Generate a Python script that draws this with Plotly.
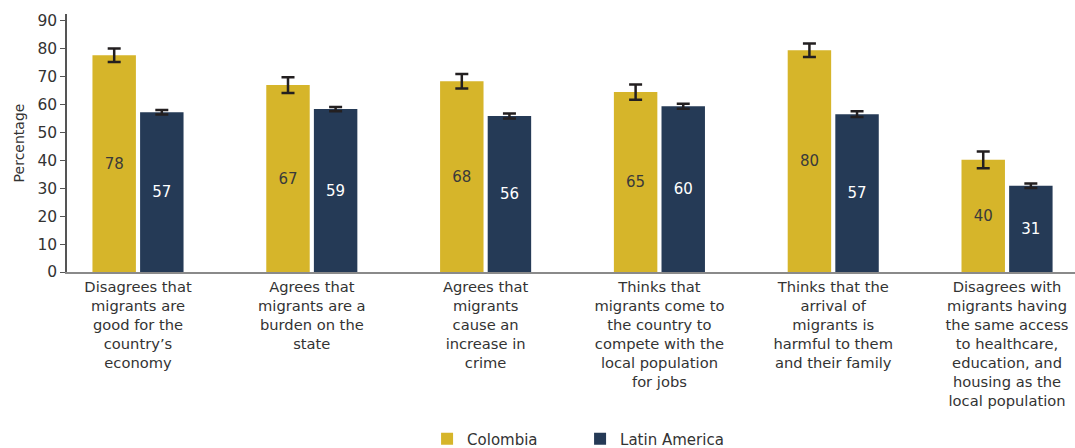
import plotly.graph_objects as go

categories = [
    "Disagrees that<br>migrants are<br>good for the<br>country’s<br>economy",
    "Agrees that<br>migrants are a<br>burden on the<br>state",
    "Agrees that<br>migrants<br>cause an<br>increase in<br>crime",
    "Thinks that<br>migrants come to<br>the country to<br>compete with the<br>local population<br>for jobs",
    "Thinks that the<br>arrival of<br>migrants is<br>harmful to them<br>and their family",
    "Disagrees with<br>migrants having<br>the same access<br>to healthcare,<br>education, and<br>housing as the<br>local population",
]
colombia = [77.7, 67.0, 68.4, 64.5, 79.5, 40.2]
colombia_err = [2.4, 2.8, 2.6, 2.7, 2.4, 3.0]
colombia_labels = ["78", "67", "68", "65", "80", "40"]
latam = [57.3, 58.4, 55.9, 59.4, 56.6, 30.9]
latam_err = [0.8, 0.75, 0.9, 0.9, 1.0, 0.8]
latam_labels = ["57", "59", "56", "60", "57", "31"]
y_ticks = [0, 10, 20, 30, 40, 50, 60, 70, 80, 90]

FONT = "DejaVu Sans"
GOLD = "#D6B52A"
NAVY = "#253A56"
DARK = "#231F20"

fig = go.Figure()
fig.add_trace(go.Bar(
    name="Colombia", x=categories, y=colombia,
    marker=dict(color=GOLD, line=dict(width=0)),
    width=0.25, offset=-0.262,
    text=colombia_labels, textposition="inside", insidetextanchor="middle",
    textfont=dict(family=FONT, size=15, color="#3a3a3a"),
    error_y=dict(type="data", array=colombia_err, color=DARK, thickness=2.5, width=6.5),
    hoverinfo="skip",
))
fig.add_trace(go.Bar(
    name="Latin America", x=categories, y=latam,
    marker=dict(color=NAVY, line=dict(width=0)),
    width=0.25, offset=0.012,
    text=latam_labels, textposition="inside", insidetextanchor="middle",
    textfont=dict(family=FONT, size=15, color="white"),
    error_y=dict(type="data", array=latam_err, color=DARK, thickness=2.5, width=6.5),
    hoverinfo="skip",
))

fig.update_layout(
    width=1075, height=448,
    margin=dict(l=67, r=0, t=13.5, b=175.5, autoexpand=False),
    paper_bgcolor="white", plot_bgcolor="white",
    font=dict(family=FONT, size=14.7, color="#333333"),
    barmode="group",
    showlegend=True,
    legend=dict(
        orientation="h", x=0.509, xanchor="center", y=-0.583, yanchor="top",
        font=dict(family=FONT, size=15, color="#333333"),
        entrywidth=108, itemclick=False,
    ),
)
fig.update_xaxes(
    type="category", range=[-0.4085, 5.391],
    showline=True, linecolor="#8a8a8a", linewidth=2,
    ticks="", showgrid=False, tickangle=0,
    tickfont=dict(family=FONT, size=14.7, color="#333333"),
)
fig.update_yaxes(
    range=[0, 92.5], tickvals=y_ticks,
    showline=True, linecolor="#555555", linewidth=1.5,
    ticks="outside", ticklen=5, tickcolor="#555555", tickwidth=1,
    showgrid=False, zeroline=False,
    tickfont=dict(family=FONT, size=15.5, color="#333333"),
    title=dict(text="Percentage", font=dict(family=FONT, size=14, color="#333333"), standoff=10),
)

fig.write_html(
    "out.html",
    config={"displayModeBar": False},
    post_script="document.body.style.margin='0';document.body.style.padding='0';",
)
